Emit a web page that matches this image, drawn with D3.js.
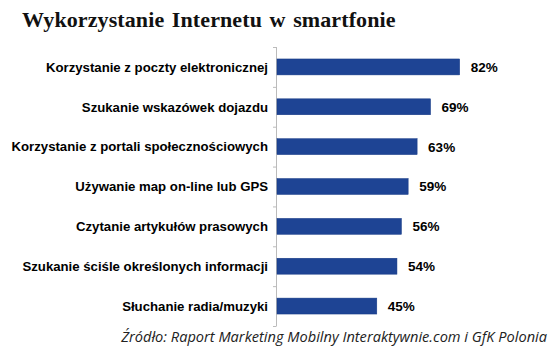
<!DOCTYPE html>
<html><head><meta charset="utf-8">
<script src="https://cdn.jsdelivr.net/npm/d3@7"></script>
<style>body{margin:0;background:#fff}svg{display:block}</style>
</head><body>
<script>
const categories = ["Korzystanie z poczty elektronicznej","Szukanie wskazówek dojazdu","Korzystanie z portali społecznościowych","Używanie map on-line lub GPS","Czytanie artykułów prasowych","Szukanie ściśle określonych informacji","Słuchanie radia/muzyki"];
const values = [82,69,63,59,56,54,45];
const valueLabels = ["82%","69%","63%","59%","56%","54%","45%"];
const title = "Wykorzystanie Internetu w smartfonie";
const source = "Źródło: Raport Marketing Mobilny Interaktywnie.com i GfK Polonia";

const W=550,H=358;
const svg=d3.select("body").append("svg").attr("width",W).attr("height",H);
const x=d3.scaleLinear().domain([0,100]).range([276,500]);
const y=d3.scaleBand().domain(categories).range([47,326]).paddingInner(0.6).paddingOuter(0.3);

svg.append("text").attr("x",22).attr("y",27).text(title)
  .attr("font-family","Liberation Serif, serif").attr("font-weight","bold").attr("font-size",22)
  .attr("letter-spacing",0.1).attr("word-spacing",2).attr("fill","#111");

const yb=d3.scaleBand().domain(categories).range([47,326]);
svg.append("line").attr("x1",276.5).attr("x2",276.5).attr("y1",47).attr("y2",326).attr("stroke","#bbb").attr("stroke-width",1);
svg.selectAll("line.tk").data(categories.concat(["end"])).enter().append("line").attr("class","tk")
  .attr("x1",273).attr("x2",276.5)
  .attr("y1",(d,i)=>47+i*yb.step()+0.5).attr("y2",(d,i)=>47+i*yb.step()+0.5)
  .attr("stroke","#bbb");

svg.selectAll("rect.bar").data(values).enter().append("rect").attr("class","bar")
  .attr("x",x(0)+1).attr("y",(d,i)=>y(categories[i]))
  .attr("width",d=>x(d)-x(0)-1).attr("height",y.bandwidth())
  .attr("fill","#1e4494").attr("stroke","#163a85").attr("stroke-width",0.5);

svg.selectAll("text.cat").data(categories).enter().append("text").attr("class","cat")
  .attr("x",268).attr("y",d=>y(d)+y.bandwidth()/2).attr("dy","0.36em").attr("text-anchor","end")
  .attr("font-family","Liberation Sans, Arial, sans-serif").attr("font-weight","bold").attr("font-size",13.2).attr("fill","#000")
  .text(d=>d);

svg.selectAll("text.val").data(values).enter().append("text").attr("class","val")
  .attr("x",d=>x(d)+11).attr("y",(d,i)=>y(categories[i])+y.bandwidth()/2).attr("dy","0.36em")
  .attr("font-family","Liberation Sans, Arial, sans-serif").attr("font-weight","bold").attr("font-size",13.5).attr("fill","#000")
  .text((d,i)=>valueLabels[i]);

svg.append("text").attr("x",547).attr("y",342).attr("text-anchor","end").text(source)
  .attr("font-family","Open Sans, sans-serif").attr("font-style","italic").attr("font-size",14.6).attr("fill","#222");
</script>
</body></html>
